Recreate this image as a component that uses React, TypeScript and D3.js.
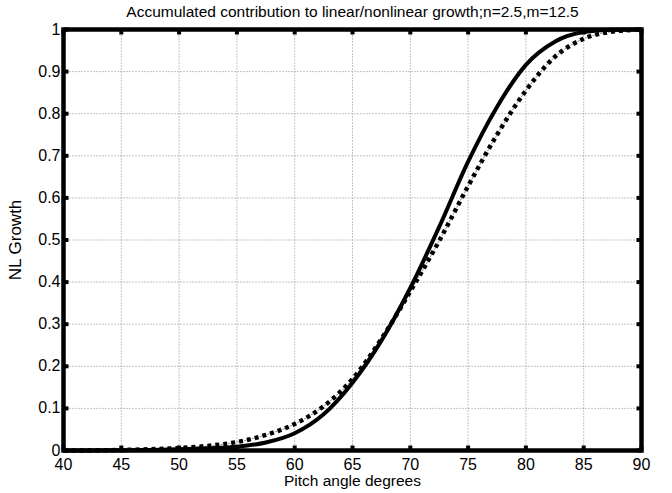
import React from "react";
import * as d3 from "d3";

const angles = [40, 42.5, 45, 47.5, 50, 52.5, 55, 57.5, 60, 62.5, 65, 67.5, 70, 72.5, 75, 77.5, 80, 82.5, 85, 87.5, 90];
const solidValues = [0, 0.0002, 0.0006, 0.0014, 0.0028, 0.0052, 0.009, 0.019, 0.041, 0.086, 0.161, 0.261, 0.386, 0.531, 0.686, 0.816, 0.916, 0.971, 0.994, 0.9995, 1];
const dottedValues = [0, 0.0004, 0.0012, 0.003, 0.006, 0.011, 0.02, 0.037, 0.063, 0.105, 0.17, 0.265, 0.378, 0.498, 0.628, 0.75, 0.855, 0.935, 0.978, 0.995, 1];
const xTicks = [40, 45, 50, 55, 60, 65, 70, 75, 80, 85, 90];
const yTicks = [0, 0.1, 0.2, 0.3, 0.4, 0.5, 0.6, 0.7, 0.8, 0.9, 1];
const yTickLabels = ["0", "0.1", "0.2", "0.3", "0.4", "0.5", "0.6", "0.7", "0.8", "0.9", "1"];
const title = "Accumulated contribution to linear/nonlinear growth;n=2.5,m=12.5";
const xLabel = "Pitch angle degrees";
const yLabel = "NL Growth";

export default function App() {
  const W = 672, H = 493;
  const left = 63.5, right = 641.5, top = 29.5, bottom = 450.5;
  const x = d3.scaleLinear().domain([40, 90]).range([left, right]);
  const y = d3.scaleLinear().domain([0, 1]).range([bottom, top]);
  const line = d3.line<[number, number]>().x(d => x(d[0])).y(d => y(d[1])).curve(d3.curveMonotoneX);
  const solid = line(angles.map((a, i) => [a, solidValues[i]] as [number, number])) || "";
  const dotted = line(angles.map((a, i) => [a, dottedValues[i]] as [number, number])) || "";
  const font = "'Liberation Sans', Arial, sans-serif";
  const tl = 5;
  return (
    <svg width={W} height={H} style={{ position: "absolute", left: 0, top: 0, background: "#fff" }} fontFamily={font}>
      <rect x={0} y={0} width={W} height={H} fill="#fff" />
      {xTicks.slice(1, -1).map(t => (
        <line key={"gx" + t} x1={x(t)} x2={x(t)} y1={top} y2={bottom} stroke="#888" strokeWidth={1} strokeDasharray="1,2" />
      ))}
      {yTicks.slice(1, -1).map(t => (
        <line key={"gy" + t} x1={left} x2={right} y1={y(t)} y2={y(t)} stroke="#888" strokeWidth={1} strokeDasharray="1,2" />
      ))}
      <path d={dotted} fill="none" stroke="#999" strokeWidth={1} strokeDasharray="3,5" strokeDashoffset={-5} />
      <path d={dotted} fill="none" stroke="#000" strokeWidth={4.5} strokeDasharray="4,4" />
      <path d={solid} fill="none" stroke="#000" strokeWidth={4} />
      {xTicks.map(t => (
        <g key={"tx" + t}>
          <line x1={x(t)} x2={x(t)} y1={bottom} y2={bottom - tl} stroke="#000" strokeWidth={4} />
          <line x1={x(t)} x2={x(t)} y1={top} y2={top + tl} stroke="#000" strokeWidth={4} />
          <text x={x(t)} y={470} textAnchor="middle" fontSize={16}>{t}</text>
        </g>
      ))}
      {yTicks.map((t, i) => (
        <g key={"ty" + t}>
          <line x1={left} x2={left + tl} y1={y(t)} y2={y(t)} stroke="#000" strokeWidth={4} />
          <line x1={right} x2={right - tl} y1={y(t)} y2={y(t)} stroke="#000" strokeWidth={4} />
          <text x={left - 3} y={y(t) + 5} textAnchor="end" fontSize={16}>{yTickLabels[i]}</text>
        </g>
      ))}
      <rect x={left} y={top} width={right - left} height={bottom - top} fill="none" stroke="#000" strokeWidth={4.5} />
      <text x={(left + right) / 2} y={17} textAnchor="middle" fontSize={15.5}>{title}</text>
      <text x={(left + right) / 2} y={486} textAnchor="middle" fontSize={15.5}>{xLabel}</text>
      <text transform={`translate(21,${(top + bottom) / 2}) rotate(-90)`} textAnchor="middle" fontSize={17}>{yLabel}</text>
    </svg>
  );
}
